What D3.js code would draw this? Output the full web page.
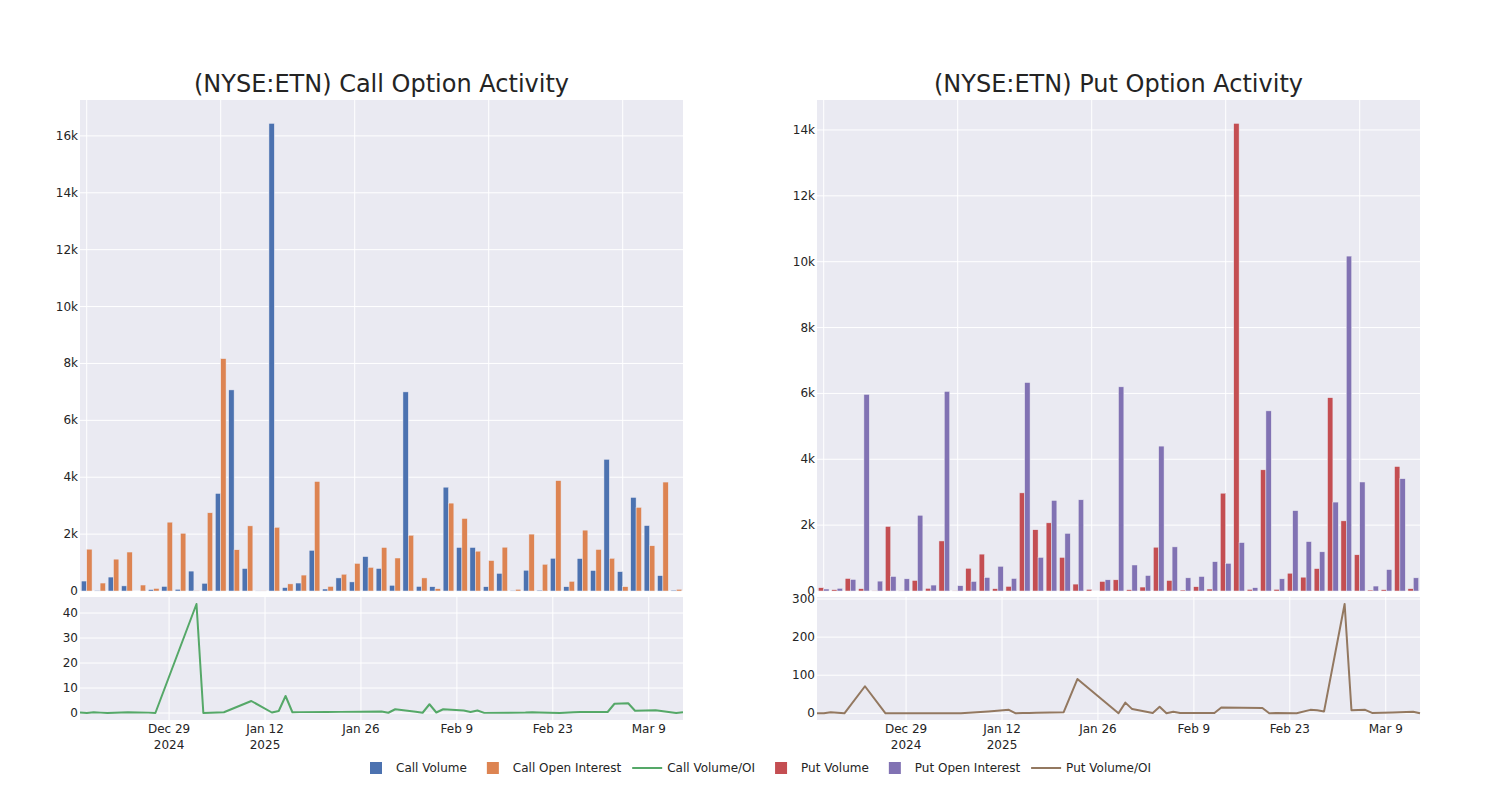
<!DOCTYPE html>
<html><head><meta charset="utf-8">
<script src="https://cdn.jsdelivr.net/npm/d3@7"></script>
<style>
body{margin:0;background:#fff;}
text{font-family:"DejaVu Sans",sans-serif;fill:rgb(36,36,36);}
</style>
</head><body>
<svg id="c" width="1500" height="800"></svg>
<script>
// ---------------- DATA ----------------
const dates = ["2024-12-16","2024-12-17","2024-12-18","2024-12-19","2024-12-20","2024-12-23","2024-12-26","2024-12-27",
  "2025-01-02","2025-01-03","2025-01-06","2025-01-10","2025-01-13","2025-01-14","2025-01-15","2025-01-16","2025-01-17",
  "2025-01-21","2025-01-23","2025-01-29","2025-01-30","2025-01-31","2025-02-03","2025-02-04","2025-02-05","2025-02-06",
  "2025-02-07","2025-02-10","2025-02-11","2025-02-12","2025-02-13","2025-02-19","2025-02-20","2025-02-21","2025-02-24",
  "2025-02-26","2025-02-27","2025-02-28","2025-03-03","2025-03-04","2025-03-06","2025-03-07","2025-03-10","2025-03-13","2025-03-14"];

const callVolume = [350,20,490,180,0,50,160,60,700,270,3430,7070,790,5,16440,120,280,1430,70,460,320,1210,790,200,7000,
  160,150,3650,1530,1530,150,620,20,730,30,1150,150,1140,720,4630,680,3290,2300,540,30];
const callOpenInterest = [1470,280,1120,1370,210,90,2420,2030,16,2750,8170,1450,2290,10,2240,250,560,3850,160,590,970,
  830,1530,1160,1960,460,80,3090,2550,1400,1070,1540,60,2000,940,3880,340,2140,1460,1150,150,2940,1590,3830,60];
const callVolumeOI = [0.2,0,0.3,0.15,0,0.3,0.15,0,43.6,0,0.3,4.8,0.2,0.8,6.8,0.3,0.35,0.4,0.45,0.6,0.1,1.5,0.5,0.1,3.5,
  0.2,1.5,1.0,0.4,1.0,0.05,0.2,0.3,0.2,0,0.3,0.4,0.4,0.4,3.7,3.9,0.9,1.1,0,0.3];

const putVolume = [100,40,380,70,10,1960,5,320,80,1520,10,690,1120,70,140,2980,1860,2070,1020,210,50,290,340,40,120,
  1330,320,30,130,60,2970,14200,50,3680,50,540,420,680,5870,2130,1100,30,40,3780,70];
const putOpenInterest = [60,80,350,5970,300,440,370,2300,180,6060,160,290,410,750,380,6330,1020,2750,1750,2770,0,340,
  6200,790,470,4400,1340,400,440,890,840,1470,100,5470,370,2440,1500,1190,2700,10170,3310,150,650,3410,400];
const putVolumeOI = [0,0,3,1.5,0,71,0,0,0,0,0,5,9,0,0.5,1,1.5,3,90,0,28,11,1,17,0,4,1,0.5,0.5,1,15,14,0,1,0,9,8,5,
  287,8,9,1,2,4,0];

const callBarTicks = [0,2000,4000,6000,8000,10000,12000,14000,16000];
const putBarTicks = [0,2000,4000,6000,8000,10000,12000,14000];
const callRatioTicks = [0,10,20,30,40];
const putRatioTicks = [0,100,200,300];
const dateTicks = ["2024-12-29","2025-01-12","2025-01-26","2025-02-09","2025-02-23","2025-03-09"];
const dateTickLabels = [["Dec 29","2024"],["Jan 12","2025"],["Jan 26"],["Feb 9"],["Feb 23"],["Mar 9"]];

// ---------------- DRAW ----------------
const parse = d3.timeParse("%Y-%m-%d");
const svg = d3.select("#c");
const BG = "#eaeaf2";

function panel(o) {
  const L = o.left, R = o.right;
  const topY0 = 100, topY1 = 591, botY0 = 597, botY1 = 720;
  const g = svg.append("g");

  // title
  g.append("text").attr("x", (L + R) / 2).attr("y", 84).attr("text-anchor", "middle")
    .attr("dominant-baseline", "central").style("font-size", "24px").text(o.title);

  // ---- bar panel ----
  g.append("rect").attr("x", L).attr("y", topY0).attr("width", R - L).attr("height", topY1 - topY0).attr("fill", BG);
  const xb = d3.scaleBand().domain(dates).range([L, R]).paddingInner(0.2).paddingOuter(0.1);
  const xs = d3.scaleBand().domain(["a", "b"]).range([0, xb.bandwidth()]);
  const ymax = d3.max(o.vol.concat(o.oi)) * 1.05;
  const yb = d3.scaleLinear().domain([0, ymax]).range([topY1, topY0]);

  // grid
  g.selectAll(".hg").data(o.barTicks).enter().append("line")
    .attr("x1", L).attr("x2", R).attr("y1", d => yb(d)).attr("y2", d => yb(d))
    .attr("stroke", "#fff").attr("stroke-width", 1);
  const catGrid = dates.filter((d, i) => i % 10 === 0);
  g.selectAll(".vg").data(catGrid).enter().append("line")
    .attr("x1", d => xb(d) + xb.bandwidth() / 2).attr("x2", d => xb(d) + xb.bandwidth() / 2)
    .attr("y1", topY0).attr("y2", topY1).attr("stroke", "#fff").attr("stroke-width", 1);

  // y axis labels
  g.selectAll(".yl").data(o.barTicks).enter().append("text")
    .attr("x", L - 2).attr("y", d => yb(d)).attr("text-anchor", "end").attr("dominant-baseline", "central")
    .style("font-size", "12px").text(d => d3.format("~s")(d));

  // bars
  const bars = g.append("g");
  dates.forEach((d, i) => {
    [["a", o.vol[i], o.c1], ["b", o.oi[i], o.c2]].forEach(([k, v, c]) => {
      bars.append("rect").attr("x", xb(d) + xs(k)).attr("width", xs.bandwidth())
        .attr("y", yb(v)).attr("height", Math.max(0, topY1 - yb(v)))
        .attr("fill", c).attr("stroke", BG).attr("stroke-width", 0.5);
    });
  });

  // ---- ratio panel ----
  g.append("rect").attr("x", L).attr("y", botY0).attr("width", R - L).attr("height", botY1 - botY0).attr("fill", BG);
  const xt = d3.scaleTime().domain([parse(dates[0]), parse(dates[dates.length - 1])]).range([L, R]);
  const yr = d3.scaleLinear().domain(o.ratioDomain).range([botY1, botY0]);
  g.selectAll(".hg2").data(o.ratioTicks).enter().append("line")
    .attr("x1", L).attr("x2", R).attr("y1", d => yr(d)).attr("y2", d => yr(d))
    .attr("stroke", "#fff").attr("stroke-width", 1);
  g.selectAll(".vg2").data(dateTicks).enter().append("line")
    .attr("x1", d => xt(parse(d))).attr("x2", d => xt(parse(d)))
    .attr("y1", botY0).attr("y2", botY1).attr("stroke", "#fff").attr("stroke-width", 1);
  g.selectAll(".yl2").data(o.ratioTicks).enter().append("text")
    .attr("x", L - 2).attr("y", d => yr(d)).attr("text-anchor", "end").attr("dominant-baseline", "central")
    .style("font-size", "12px").text(d => d);
  dateTicks.forEach((d, i) => {
    dateTickLabels[i].forEach((s, j) => {
      g.append("text").attr("x", xt(parse(d))).attr("y", 729 + j * 16).attr("text-anchor", "middle")
        .attr("dominant-baseline", "central").style("font-size", "12px").text(s);
    });
  });
  const line = d3.line().x((d, i) => xt(parse(dates[i]))).y(d => yr(d));
  g.append("path").datum(o.ratio).attr("d", line).attr("fill", "none")
    .attr("stroke", o.c3).attr("stroke-width", 2).attr("stroke-linejoin", "round");
}

panel({left: 80, right: 683, title: "(NYSE:ETN) Call Option Activity", vol: callVolume, oi: callOpenInterest,
  ratio: callVolumeOI, c1: "#4c72b0", c2: "#dd8452", c3: "#55a868", barTicks: callBarTicks,
  ratioTicks: callRatioTicks, ratioDomain: [-2.8, 46.4]});
panel({left: 817, right: 1420, title: "(NYSE:ETN) Put Option Activity", vol: putVolume, oi: putOpenInterest,
  ratio: putVolumeOI, c1: "#c44e52", c2: "#8172b3", c3: "#937860", barTicks: putBarTicks,
  ratioTicks: putRatioTicks, ratioDomain: [-17.6, 305.3]});

// ---- legend ----
const legendItems = [
  {label: "Call Volume", type: "rect", color: "#4c72b0"},
  {label: "Call Open Interest", type: "rect", color: "#dd8452"},
  {label: "Call Volume/OI", type: "line", color: "#55a868"},
  {label: "Put Volume", type: "rect", color: "#c44e52"},
  {label: "Put Open Interest", type: "rect", color: "#8172b3"},
  {label: "Put Volume/OI", type: "line", color: "#937860"}
];
const lg = svg.append("g");
const ly = 768;
let cx = 0;
const placed = [];
legendItems.forEach(it => {
  const t = lg.append("text").attr("x", cx + 20).attr("y", ly).attr("dominant-baseline", "central")
    .style("font-size", "12px").text(it.label);
  const w = t.node().getComputedTextLength();
  placed.push({it, cx, t});
  cx = cx + 20 + w + 26;
});
const total = cx - 26 + 15;
const shift = 376 - 0;
placed.forEach(p => {
  const x = p.cx + shift;
  p.t.attr("x", x + 20);
  if (p.it.type === "rect") {
    lg.append("rect").attr("x", x - 6).attr("y", ly - 6).attr("width", 12).attr("height", 12).attr("fill", p.it.color);
  } else {
    lg.append("line").attr("x1", x - 15).attr("x2", x + 15).attr("y1", ly).attr("y2", ly)
      .attr("stroke", p.it.color).attr("stroke-width", 2);
  }
});
</script>
</body></html>
